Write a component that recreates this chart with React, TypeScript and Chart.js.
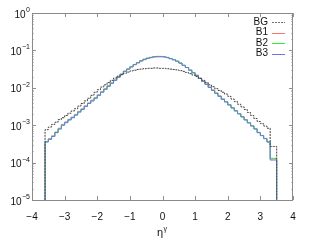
import React, { useEffect, useRef } from "react";
import { Chart, registerables } from "chart.js";
Chart.register(...registerables);

const BIN_START = -3.6;
const BIN_WIDTH = 0.1;
const FLOOR = 1e-7;

const X_TICKS = [-4, -3, -2, -1, 0, 1, 2, 3, 4];
const Y_DECADES = [1e-5, 1e-4, 1e-3, 1e-2, 1e-1, 1];
const Y_EXPONENTS = ["−5", "−4", "−3", "−2", "−1", "0"];
const SERIES_NAMES = ["BG", "B1", "B2", "B3"];

const BG = [
  3.3e-4, 7.6e-4, 8.9e-4, 1.05e-3, 1.2e-3, 1.41e-3, 1.58e-3, 1.82e-3, 2.09e-3, 2.4e-3,
  2.75e-3, 3.24e-3, 3.8e-3, 4.47e-3, 5.25e-3, 6.3e-3, 7.6e-3, 8.9e-3, 0.0105, 0.012,
  0.0138, 0.0158, 0.0182, 0.0204, 0.0224, 0.0245, 0.0263, 0.0282, 0.0295, 0.0309,
  0.0316, 0.0324, 0.0331, 0.0331, 0.0339, 0.0339, 0.0331, 0.0331, 0.0324, 0.0316,
  0.0309, 0.0302, 0.0288, 0.0275, 0.0257, 0.024, 0.0219, 0.02, 0.0178, 0.0158,
  0.0138, 0.012, 0.0107, 9.5e-3, 8.5e-3, 7.6e-3, 6.8e-3, 5.9e-3, 5.0e-3, 4.27e-3,
  3.63e-3, 3.09e-3, 2.63e-3, 2.19e-3, 1.82e-3, 1.51e-3, 1.26e-3, 1.1e-3, 9.5e-4, 8.3e-4,
  2.7e-4,
];

const B1 = [
  1.8e-4, 3.7e-4, 4.4e-4, 5.2e-4, 6.6e-4, 8.3e-4, 1.05e-3, 1.22e-3, 1.44e-3, 1.66e-3,
  1.95e-3, 2.34e-3, 2.75e-3, 3.3e-3, 3.95e-3, 4.65e-3, 5.45e-3, 6.5e-3, 7.85e-3, 9.4e-3,
  0.0113, 0.0136, 0.0162, 0.0194, 0.0232, 0.0278, 0.0318, 0.0362, 0.0414, 0.0462,
  0.0518, 0.0565, 0.0605, 0.0634, 0.0662, 0.067, 0.0672, 0.0664, 0.0638, 0.0598,
  0.056, 0.0512, 0.0458, 0.04, 0.035, 0.0298, 0.0254, 0.0218, 0.0182, 0.0152,
  0.0126, 0.0105, 8.8e-3, 7.3e-3, 6.1e-3, 5.05e-3, 4.3e-3, 3.58e-3, 2.97e-3, 2.48e-3,
  2.06e-3, 1.72e-3, 1.42e-3, 1.18e-3, 9.7e-4, 8.1e-4, 6.45e-4, 5.35e-4, 4.45e-4, 3.6e-4,
  1.25e-4,
];

const B2 = [
  1.3e-4, 3.6e-4, 4.25e-4, 5.05e-4, 6.4e-4, 8.0e-4, 1.01e-3, 1.19e-3, 1.4e-3, 1.6e-3,
  1.88e-3, 2.27e-3, 2.66e-3, 3.2e-3, 3.84e-3, 4.5e-3, 5.3e-3, 6.35e-3, 7.7e-3, 9.2e-3,
  0.0111, 0.0134, 0.016, 0.0192, 0.0231, 0.0277, 0.0318, 0.0366, 0.0421, 0.0473,
  0.0531, 0.0583, 0.0626, 0.0656, 0.0686, 0.0694, 0.0692, 0.0684, 0.0652, 0.0608,
  0.0566, 0.0516, 0.0459, 0.0399, 0.0348, 0.0296, 0.0252, 0.0215, 0.0179, 0.0149,
  0.0124, 0.0103, 8.6e-3, 7.15e-3, 5.95e-3, 4.95e-3, 4.2e-3, 3.5e-3, 2.9e-3, 2.42e-3,
  2.02e-3, 1.67e-3, 1.39e-3, 1.16e-3, 9.6e-4, 7.95e-4, 6.35e-4, 5.3e-4, 4.4e-4, 3.55e-4,
  1.3e-4,
];

const B3 = [
  1.26e-4, 3.55e-4, 4.17e-4, 5.0e-4, 6.3e-4, 7.9e-4, 1.0e-3, 1.17e-3, 1.38e-3, 1.58e-3,
  1.86e-3, 2.24e-3, 2.63e-3, 3.16e-3, 3.8e-3, 4.47e-3, 5.25e-3, 6.3e-3, 7.6e-3, 9.1e-3,
  0.011, 0.0132, 0.0158, 0.019, 0.0229, 0.0275, 0.0316, 0.0363, 0.0417, 0.0468,
  0.0525, 0.0575, 0.0617, 0.0646, 0.0676, 0.0684, 0.0684, 0.0676, 0.0646, 0.0603,
  0.0562, 0.0513, 0.0457, 0.0398, 0.0347, 0.0295, 0.0251, 0.0214, 0.0178, 0.0148,
  0.0123, 0.0102, 8.5e-3, 7.1e-3, 5.9e-3, 4.9e-3, 4.17e-3, 3.47e-3, 2.88e-3, 2.4e-3,
  2.0e-3, 1.66e-3, 1.38e-3, 1.15e-3, 9.5e-4, 7.9e-4, 6.3e-4, 5.25e-4, 4.37e-4, 3.55e-4,
  1.17e-4,
];

const COLORS = ["#404040", "#ff8080", "#40e040", "#6080e8"];
const LEGEND_COLORS = ["#707070", "#ff7070", "#30f030", "#7070f0"];
const FONT = "Liberation Sans, Arial, sans-serif";

function stepPoints(vals: number[]) {
  const pts: { x: number; y: number }[] = [{ x: BIN_START, y: FLOOR }];
  vals.forEach((v, i) => pts.push({ x: BIN_START + i * BIN_WIDTH, y: v }));
  const end = BIN_START + vals.length * BIN_WIDTH;
  pts.push({ x: end, y: vals[vals.length - 1] });
  pts.push({ x: end, y: FLOOR });
  return pts;
}

const decorPlugin = {
  id: "decor",
  afterDraw(chart: any) {
    const ctx = chart.ctx as CanvasRenderingContext2D;
    const { left, right, top, bottom } = chart.chartArea;
    const xs = chart.scales.x;
    const ys = chart.scales.y;
    ctx.save();
    // ticks
    ctx.strokeStyle = "#909090";
    ctx.lineWidth = 1;
    ctx.beginPath();
    X_TICKS.forEach((t) => {
      const px = Math.round(xs.getPixelForValue(t)) + 0.5;
      ctx.moveTo(px, bottom);
      ctx.lineTo(px, bottom - 4);
      ctx.moveTo(px, top);
      ctx.lineTo(px, top + 4);
    });
    Y_DECADES.forEach((d) => {
      const py = Math.round(ys.getPixelForValue(d)) + 0.5;
      ctx.moveTo(left, py);
      ctx.lineTo(left + 4, py);
      ctx.moveTo(right, py);
      ctx.lineTo(right - 4, py);
    });
    ctx.stroke();
    ctx.strokeStyle = "#c8c8c8";
    ctx.beginPath();
    Y_DECADES.slice(0, -1).forEach((d) => {
      for (let m = 2; m <= 9; m++) {
        const py = Math.round(ys.getPixelForValue(d * m)) + 0.5;
        ctx.moveTo(left, py);
        ctx.lineTo(left + 2, py);
        ctx.moveTo(right, py);
        ctx.lineTo(right - 2, py);
      }
    });
    ctx.stroke();
    // border
    ctx.strokeStyle = "#8a8a8a";
    ctx.strokeRect(Math.round(left) + 0.5, Math.round(top) + 0.5, Math.round(right - left) - 1, Math.round(bottom - top));

    // y labels
    ctx.fillStyle = "#111";
    Y_DECADES.forEach((d, i) => {
      const py = ys.getPixelForValue(d);
      ctx.font = `7px ${FONT}`;
      const ew = ctx.measureText(Y_EXPONENTS[i]).width;
      const rightEdge = 30;
      ctx.textAlign = "left";
      ctx.textBaseline = "alphabetic";
      ctx.fillText(Y_EXPONENTS[i], rightEdge - ew, py - 1);
      ctx.font = `10px ${FONT}`;
      ctx.textAlign = "right";
      ctx.fillText("10", rightEdge - ew - 0.5, py + 4.5);
    });

    // x title
    ctx.font = `11px ${FONT}`;
    ctx.textAlign = "right";
    ctx.textBaseline = "alphabetic";
    ctx.fillText("η", 163, 236);
    ctx.font = `7px ${FONT}`;
    ctx.textAlign = "left";
    ctx.fillText("γ", 163.5, 231);

    // legend
    SERIES_NAMES.forEach((name, i) => {
      const y = 22 + i * 10.5;
      ctx.font = `10px ${FONT}`;
      ctx.textAlign = "right";
      ctx.textBaseline = "middle";
      ctx.fillStyle = "#111";
      ctx.fillText(name, 268, y);
      ctx.strokeStyle = LEGEND_COLORS[i];
      ctx.setLineDash(i === 0 ? [2, 1] : []);
      ctx.beginPath();
      ctx.moveTo(272, Math.round(y) + 0.5);
      ctx.lineTo(285, Math.round(y) + 0.5);
      ctx.stroke();
    });
    ctx.setLineDash([]);
    ctx.restore();
  },
};

export default function App() {
  const ref = useRef<HTMLCanvasElement | null>(null);
  useEffect(() => {
    if (!ref.current) return;
    const all = [BG, B1, B2, B3];
    const orders = [0, 3, 2, 1];
    const chart = new Chart(ref.current, {
      type: "line",
      data: {
        datasets: all.map((vals, i) => ({
          label: SERIES_NAMES[i],
          data: stepPoints(vals),
          stepped: "after" as const,
          borderColor: COLORS[i],
          borderWidth: 1,
          borderDash: i === 0 ? [2, 1] : [],
          pointRadius: 0,
          fill: false,
          order: orders[i],
        })),
      },
      options: {
        animation: false,
        responsive: false,
        layout: { padding: { left: 0, top: 13, right: 18, bottom: 0 } },
        plugins: { legend: { display: false }, tooltip: { enabled: false } },
        scales: {
          x: {
            type: "linear",
            min: -4,
            max: 4,
            grid: { display: false, drawTicks: false },
            border: { display: false },
            ticks: {
              stepSize: 1,
              padding: 11,
              color: "#111",
              font: { family: FONT, size: 10 },
              callback: (v: any) => (Number(v) < 0 ? "−" + Math.abs(Number(v)) : String(v)),
            },
            afterFit: (s: any) => {
              s.height = 45;
            },
          },
          y: {
            type: "logarithmic",
            min: 1e-5,
            max: 1,
            grid: { display: false, drawTicks: false },
            border: { display: false },
            ticks: { display: false },
            afterBuildTicks: (s: any) => {
              s.ticks = Y_DECADES.map((v) => ({ value: v }));
            },
            afterFit: (s: any) => {
              s.width = 32;
            },
          },
        },
      },
      plugins: [decorPlugin],
    });
    return () => chart.destroy();
  }, []);
  return (
    <div style={{ position: "absolute", left: 0, top: 0, width: 311, height: 245, background: "#fff" }}>
      <canvas ref={ref} width={311} height={245} />
    </div>
  );
}
